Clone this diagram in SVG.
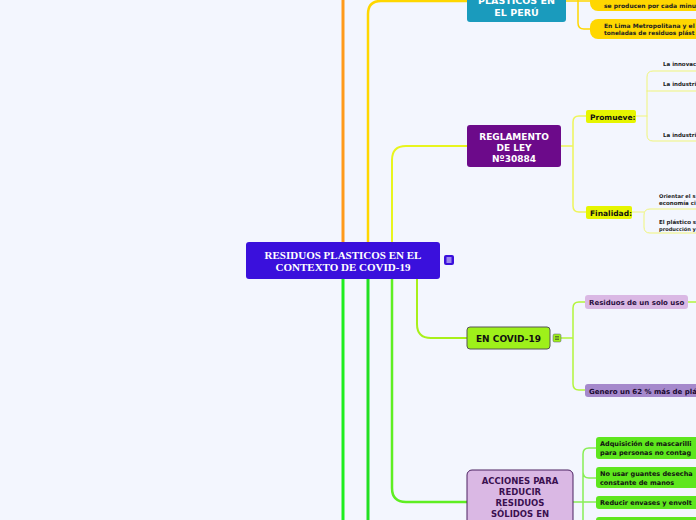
<svg xmlns="http://www.w3.org/2000/svg" width="696" height="520" viewBox="0 0 696 520">
<style>
.bg{fill:#f3f6fe}
.c{fill:none;stroke-linecap:round;stroke-linejoin:round}
.t{font-family:"DejaVu Sans",Verdana,sans-serif;font-weight:bold}
.s{font-family:"Liberation Serif","Times New Roman",serif;font-weight:bold}
</style>
<rect class="bg" x="0" y="0" width="696" height="520"/>
<g id="connectors">
  <path class="c" d="M343,242 V0" stroke="#ff9a1a" stroke-width="3"/>
  <path class="c" d="M368,242 V14 Q368,1 381,1 H467" stroke="#ffd700" stroke-width="2.5"/>
  <path class="c" d="M392,242 V160 Q392,146 406,146 H467" stroke="#e8f51e" stroke-width="2"/>
  <path class="c" d="M343,279 V520" stroke="#1eee1e" stroke-width="3"/>
  <path class="c" d="M368,279 V520" stroke="#22e022" stroke-width="3"/>
  <path class="c" d="M392,279 V488 Q392,502 406,502 H467" stroke="#5eee22" stroke-width="2.5"/>
  <path class="c" d="M417,279 V324 Q417,338 431,338 H467" stroke="#a8f01a" stroke-width="2"/>
  <path class="c" d="M566,1 H578 M578,-10 V23 Q578,29 584,29 H590 M578,1 H590" stroke="#ffd700" stroke-width="1.5"/>
  <path class="c" d="M561,146 H573 M586,116 H579 Q573,116 573,122 V206 Q573,212 579,212 H586" stroke="#eef55a" stroke-width="1.5"/>
  <path class="c" d="M636,116 H647 M696,71 H653 Q647,71 647,77 V135 Q647,141 653,141 H696 M647,91 Q647,91 653,91 H696" stroke="#f0f57a" stroke-width="1"/>
  <path class="c" d="M632,212 H644 M696,209 H650 Q644,209 644,215 V227 Q644,233 650,233 H696" stroke="#f0f57a" stroke-width="1"/>
  <path class="c" d="M561,338 H573 M585,302 H579 Q573,302 573,308 V384 Q573,390 579,390 H585" stroke="#b3f53c" stroke-width="1.5"/>
  <path class="c" d="M688,302 H696" stroke="#b3f53c" stroke-width="1.5"/>
  <path class="c" d="M573,502 H583 M596,448 H589 Q583,448 583,454 V520 M583,472 Q583,478 589,478 H596 M583,502 H596" stroke="#88ee55" stroke-width="1.5"/>
</g>
<g id="central">
  <rect x="246" y="242" width="194" height="37" rx="3" fill="#3a10dc"/>
  <text class="s" x="343" y="259" font-size="11" fill="#fff" text-anchor="middle">RESIDUOS PLASTICOS EN EL</text>
  <text class="s" x="343" y="271" font-size="11" fill="#fff" text-anchor="middle">CONTEXTO DE COVID-19</text>
  <rect x="444" y="255" width="10" height="10" rx="2" fill="#3a10dc"/>
  <path d="M446.5,258 H451.5 M446.5,260 H451.5 M446.5,262 H451.5" stroke="#fff" stroke-width="1"/>
</g>
<g id="peru">
  <rect x="467" y="-20" width="99" height="42" rx="3" fill="#1a9bbd"/>
  <text class="t" x="516.5" y="4" font-size="9.5" fill="#fff" text-anchor="middle">PLASTICOS EN</text>
  <text class="t" x="516.5" y="16" font-size="9.5" fill="#fff" text-anchor="middle">EL PERÚ</text>
</g>
<g id="peru-1">
  <rect x="590" y="-10" width="120" height="21" rx="8" fill="#ffd700"/>
  <text class="t" x="604" y="8" font-size="6" fill="#222">se producen por cada minu</text>
</g>
<g id="peru-2">
  <rect x="590" y="19" width="120" height="20" rx="8" fill="#ffd700"/>
  <text class="t" x="604" y="27.5" font-size="6" fill="#222">En Lima Metropolitana y el</text>
  <text class="t" x="604" y="35" font-size="5.8" fill="#222">toneladas de residuos plást</text>
</g>
<g id="reglamento">
  <rect x="467" y="125" width="94" height="42" rx="3" fill="#6c0a8a"/>
  <text class="t" x="514" y="140" font-size="9" fill="#fff" text-anchor="middle">REGLAMENTO</text>
  <text class="t" x="514" y="151" font-size="9" fill="#fff" text-anchor="middle">DE LEY</text>
  <text class="t" x="514" y="162" font-size="9" fill="#fff" text-anchor="middle">Nº30884</text>
</g>
<g id="promueve">
  <rect x="586" y="110" width="50" height="13" rx="2" fill="#e6f500"/>
  <text class="t" x="590" y="119.5" font-size="7.5" fill="#111">Promueve:</text>
</g>
<g id="promueve-1"><text class="t" x="663" y="66" font-size="5.5" fill="#222">La innovac</text></g>
<g id="promueve-2"><text class="t" x="663" y="86" font-size="5.5" fill="#222">La industri</text></g>
<g id="promueve-3"><text class="t" x="663" y="137" font-size="5.5" fill="#222">La industri</text></g>
<g id="finalidad">
  <rect x="586" y="206" width="46" height="13" rx="2" fill="#e6f500"/>
  <text class="t" x="590" y="215.5" font-size="7.5" fill="#111">Finalidad:</text>
</g>
<g id="finalidad-1">
  <text class="t" x="659" y="198" font-size="5.2" fill="#222">Orientar el s</text>
  <text class="t" x="659" y="205" font-size="5.5" fill="#222">economía ci</text>
</g>
<g id="finalidad-2">
  <text class="t" x="659" y="224" font-size="5.5" fill="#222">El plástico s</text>
  <text class="t" x="659" y="231" font-size="5.1" fill="#222">producción y</text>
</g>
<g id="covid">
  <rect x="467" y="327" width="83" height="22" rx="3" fill="#9ef01a" stroke="#555" stroke-width="1"/>
  <text class="t" x="508.5" y="341.5" font-size="9" fill="#111" text-anchor="middle">EN COVID-19</text>
  <rect x="553" y="334" width="8" height="8" rx="1.5" fill="#9ef01a" stroke="#557" stroke-width="0.5"/>
  <path d="M555,336.5 H559 M555,338 H559 M555,339.5 H559" stroke="#333" stroke-width="0.6"/>
</g>
<g id="residuos">
  <rect x="585" y="295" width="103" height="14" rx="3" fill="#dab8e4"/>
  <text class="t" x="589" y="305" font-size="7" fill="#2a1040">Residuos de un solo uso</text>
</g>
<g id="genero">
  <rect x="585" y="384" width="130" height="13" rx="3" fill="#a589cc"/>
  <text class="t" x="589" y="393.5" font-size="7" fill="#1a0a30">Genero un 62 % más de plá</text>
</g>
<g id="acciones">
  <rect x="467" y="470" width="106" height="70" rx="5" fill="#dab8e4" stroke="#4a2060" stroke-width="1"/>
  <text class="t" x="520" y="484" font-size="8.5" fill="#3a1050" text-anchor="middle">ACCIONES PARA</text>
  <text class="t" x="520" y="495" font-size="8.5" fill="#3a1050" text-anchor="middle">REDUCIR</text>
  <text class="t" x="520" y="506" font-size="8.5" fill="#3a1050" text-anchor="middle">RESIDUOS</text>
  <text class="t" x="520" y="517" font-size="8.5" fill="#3a1050" text-anchor="middle">SÓLIDOS EN</text>
</g>
<g id="accion-1">
  <rect x="596" y="437" width="120" height="22" rx="3" fill="#5ee61e"/>
  <text class="t" x="600" y="446" font-size="6.5" fill="#111">Adquisición de mascarilli</text>
  <text class="t" x="600" y="455" font-size="6.5" fill="#111">para personas no contag</text>
</g>
<g id="accion-2">
  <rect x="596" y="467" width="120" height="21" rx="3" fill="#5ee61e"/>
  <text class="t" x="600" y="475.5" font-size="6.5" fill="#111">No usar guantes desecha</text>
  <text class="t" x="600" y="484.5" font-size="6.5" fill="#111">constante de manos</text>
</g>
<g id="accion-3">
  <rect x="596" y="496" width="120" height="13" rx="3" fill="#5ee61e"/>
  <text class="t" x="600" y="505" font-size="6.5" fill="#111">Reducir envases y envolt</text>
</g>
<g id="accion-4">
  <rect x="596" y="517" width="120" height="14" rx="3" fill="#5ee61e"/>
</g>
</svg>
